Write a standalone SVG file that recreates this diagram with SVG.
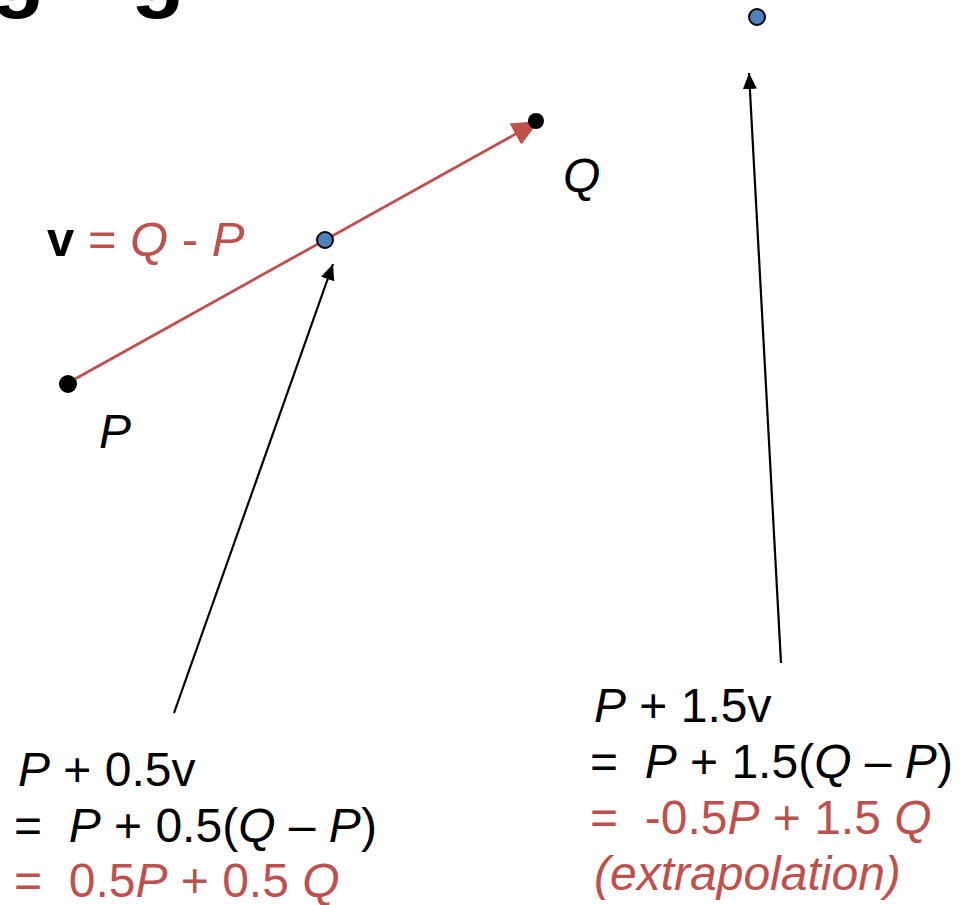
<svg xmlns="http://www.w3.org/2000/svg" width="973" height="905" viewBox="0 0 973 905">
<style>
  text { font-family: "Liberation Sans", Arial, sans-serif; font-size: 48px; white-space: pre; }
  .blk { fill: #000; }
  .red { fill: #C0504D; }
  .it { font-style: italic; }
  .bold { font-weight: bold; }
  .ptb { fill: #000; }
  .ptc { fill: #4F81BD; stroke: #000; stroke-width: 2; }
  .conn { stroke: #000; stroke-width: 2.2; fill: none; }
  .vec { stroke: #C0504D; stroke-width: 2.8; fill: none; }
</style>
<defs>
  <marker id="ah" viewBox="0 0 16 14" refX="16" refY="7" markerWidth="16" markerHeight="14" markerUnits="userSpaceOnUse" orient="auto">
    <path d="M0,0 L16,7 L0,14 Z" fill="#000"/>
  </marker>
  <marker id="ahr" viewBox="0 0 27 24" refX="27" refY="12" markerWidth="27" markerHeight="24" markerUnits="userSpaceOnUse" orient="auto">
    <path d="M0,0 L27,12 L0,24 Z" fill="#C0504D"/>
  </marker>
</defs>

<g id="title-fragment">
  <text class="bold" x="-9" y="1" style="font-size:88px">g</text>
  <text class="bold" x="131" y="1" style="font-size:88px">g</text>
</g>

<g id="connectors">
  <line class="vec" x1="75" y1="379" x2="539" y2="121" marker-end="url(#ahr)"/>
  <line class="conn" x1="174" y1="713" x2="333" y2="264" marker-end="url(#ah)"/>
  <line class="conn" x1="781" y1="663" x2="749" y2="73" marker-end="url(#ah)"/>
</g>

<g id="node-P">
  <circle class="ptb" cx="68" cy="384" r="9"/>
  <text class="blk it" x="99" y="448">P</text>
</g>
<g id="node-Q">
  <circle class="ptb" cx="536" cy="121" r="8"/>
  <text class="blk it" x="563" y="192">Q</text>
</g>
<g id="node-mid">
  <circle class="ptc" cx="325" cy="240" r="8"/>
</g>
<g id="node-ext">
  <circle class="ptc" cx="757" cy="17" r="8"/>
</g>

<g id="label-v">
  <text x="47" y="256" style="font-size:49px"><tspan class="blk bold">v</tspan><tspan class="red"> = </tspan><tspan class="red it">Q</tspan><tspan class="red"> - </tspan><tspan class="red it">P</tspan></text>
</g>

<g id="label-mid">
  <text class="blk" x="18" y="786"><tspan class="it">P</tspan> + 0.5v</text>
  <text class="blk" x="14" y="842">=  <tspan class="it">P</tspan> + 0.5(<tspan class="it">Q</tspan> – <tspan class="it">P</tspan>)</text>
  <text class="red" x="14" y="897">=  0.5<tspan class="it">P</tspan> + 0.5 <tspan class="it">Q</tspan></text>
</g>

<g id="label-ext">
  <text class="blk" x="594" y="722"><tspan class="it">P</tspan> + 1.5v</text>
  <text class="blk" x="590" y="778">=  <tspan class="it">P</tspan> + 1.5(<tspan class="it">Q</tspan> – <tspan class="it">P</tspan>)</text>
  <text class="red" x="590" y="834">=  -0.5<tspan class="it">P</tspan> + 1.5 <tspan class="it">Q</tspan></text>
  <text class="red it" x="594" y="890">(extrapolation)</text>
</g>
</svg>
